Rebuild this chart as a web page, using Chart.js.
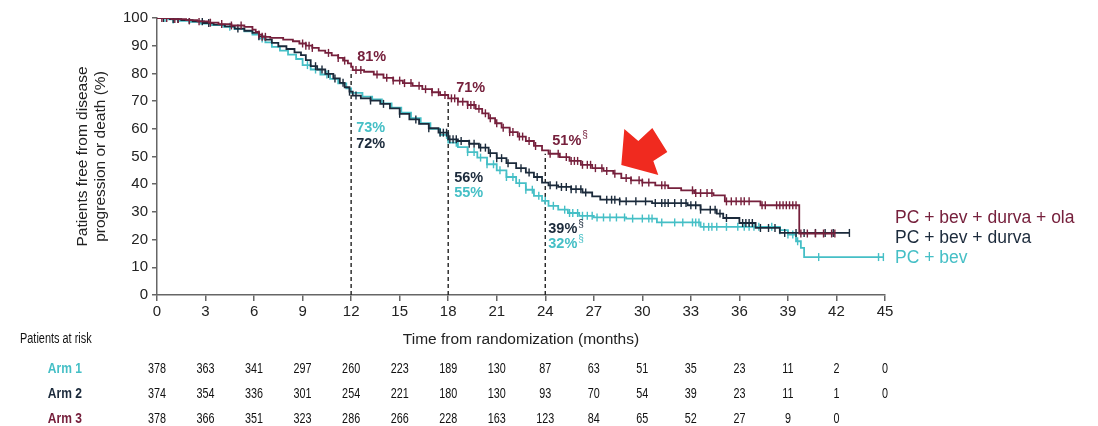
<!DOCTYPE html>
<html>
<head>
<meta charset="utf-8">
<script src="https://cdn.jsdelivr.net/npm/chart.js@4.4.1/dist/chart.umd.min.js"></script>
<style>
    body { margin: 0; background: #fff; }
    #wrap { width: 1098px; height: 426px; position: relative; }
</style>
</head>
<body>
<div id="wrap"><canvas id="km"></canvas></div>
<script>
// Kaplan-Meier step values (months, % free from progression)
const arm3Times = [0,0.9,1.8,2.5,3.2,3.8,4.6,5.4,5.9,6.1,6.3,6.5,7.0,7.8,8.4,8.8,9.2,9.6,10.0,10.4,10.8,11.2,11.5,11.8,12.0,12.1,12.8,13.4,14.0,14.6,15.2,15.8,16.4,17.0,17.5,18.0,18.6,19.2,19.7,20.1,20.5,20.9,21.3,21.8,22.3,22.8,23.3,23.8,24.2,24.9,25.5,26.2,26.9,27.6,28.2,28.7,29.3,30.0,30.8,31.6,32.4,33.2,34.4,35.1,37.3,39.7,41.9]
const arm3Surv = [100,99.6,99.2,98.8,98.3,97.8,97.3,96.8,95.8,95,94,93.2,92.8,92.2,91.6,90.8,90,89.2,88.2,87.4,86.5,85.6,84.6,83.6,82.4,81.2,80.6,79.6,78.4,77.4,76.5,75.5,74.3,73.2,72.2,71,69.8,68.6,67.2,65.6,63.8,62,60.4,58.8,57.2,55.6,53.8,52.2,51,49.8,48.4,47,45.8,44.8,43.8,42.2,41.4,40.6,39.6,38.6,37.8,36.8,36.0,33.8,32.4,22.2,22.2]

const arm2Times = [0,0.8,1.5,2.2,2.9,3.5,4.2,4.8,5.4,5.9,6.3,6.7,7.1,7.5,8.0,8.5,8.9,9.2,9.5,9.9,10.4,10.9,11.3,11.6,11.9,12.1,12.6,13.2,13.8,14.4,15.0,15.6,16.2,16.8,17.4,18.0,18.6,19.3,19.9,20.5,21.0,21.6,22.2,22.8,23.3,23.8,24.2,24.8,25.6,26.3,26.9,27.4,28.6,30.6,32.8,33.6,34.6,35.0,36.0,37.0,38.5,42.8]
const arm2Surv = [100,99.6,99.2,98.8,98.2,97.6,97,96.2,95.4,94.6,93.4,92.2,91,89.8,88.8,87.6,86.6,84.8,82.6,81.4,79.8,78.2,76.6,75,73.4,72,71,70.2,69,67.4,65.4,63.4,61.8,60.2,58.6,56.2,55.6,54.6,53.2,51.2,49.4,47.6,45.8,44.2,42.6,40.6,39.6,39,38.2,37,35.6,34.4,33.8,33.2,32.4,30.8,29.4,27.8,26,24.2,22.4,22.4]

const arm1Times = [0,0.7,1.3,2.0,2.7,3.4,4.1,4.8,5.4,5.9,6.3,6.7,7.1,7.6,8.1,8.6,9.0,9.5,10.1,10.7,11.2,11.7,12.0,12.7,13.3,13.9,14.5,15.1,15.7,16.3,16.9,17.5,18.0,18.6,19.2,19.8,20.4,21.0,21.6,22.2,22.8,23.3,23.8,24.2,24.8,25.4,26.1,27.0,29.0,30.9,33.6,38.5,39.0,39.5,39.8,40.0,44.9]
const arm1Surv = [100,99.5,99,98.6,98.0,97.4,96.8,96,95.2,94,92.6,91.2,89.6,88.2,86.8,85.2,83,81.4,79.6,78,76.4,74.6,73,71.6,70.6,69.2,67.6,65.8,63.8,62,60,57.8,55,53.4,51.6,49.6,47.2,45,42.6,40.4,38,35.8,34,32.2,30.8,29.6,28.6,28,27.6,26.2,24.6,23.4,21.8,19.4,17,13.7,13.7]

// censoring marks (months)
const arm3Censor = [0.3,0.6,1.1,1.3,2.0,2.6,3.3,4.0,4.6,5.2,6.3,6.5,6.7,9.0,9.2,9.4,9.6,10.6,11.2,11.6,12.3,12.6,13.6,14.2,14.6,15.0,15.3,15.7,16.2,16.6,17.0,17.4,17.8,18.2,18.4,18.6,18.9,19.2,19.4,19.6,19.9,20.3,20.6,21.0,21.4,21.8,22.0,22.4,22.6,23.0,23.4,24.3,24.8,25.3,25.6,25.8,26.0,26.3,26.6,26.8,27.1,27.5,27.8,28.3,29.0,29.3,29.8,30.0,30.4,31.2,31.4,33.1,33.3,33.6,34.0,34.3,35.2,35.5,35.8,36.1,36.3,36.6,37.4,37.6,38.3,38.5,38.7,38.9,39.1,39.3,39.5,39.8,40.2,40.7,41.2,41.7,41.9]
const arm2Censor = [0.4,1.0,1.3,2.0,2.8,3.2,5.0,6.3,9.8,10.2,10.6,11.0,11.5,11.9,12.3,13.2,14.0,15.0,16.0,16.8,17.5,17.7,17.9,18.1,18.3,18.5,18.8,19.3,19.6,20.0,20.3,20.6,21.0,21.3,21.7,22.5,23.0,23.5,24.3,24.7,25.0,25.3,25.6,25.9,26.2,26.5,27.8,28.1,28.3,28.6,29.0,29.6,30.2,30.8,31.2,31.4,31.6,32.0,32.4,32.7,33.0,33.3,33.6,34.2,34.5,34.8,35.2,36.2,36.4,36.6,36.8,37.3,37.8,38.2,38.8,39.5,40.0,40.7,41.3,41.8,42.8]
const arm1Censor = [0.5,1.0,4.5,6.5,9.3,9.8,10.5,17.9,18.5,19.2,19.6,20.0,20.4,20.8,21.2,21.6,22.0,22.4,22.8,23.2,23.6,24.0,24.5,25.2,25.5,25.7,26.0,26.3,26.6,26.9,27.2,27.6,28.0,28.4,28.9,29.4,30.0,30.4,30.6,31.2,32.0,32.5,33.1,33.3,33.5,33.8,34.1,34.3,34.6,35.2,35.9,36.3,36.6,36.9,37.2,38.0,38.5,39.0,39.3,39.6,40.9,44.6,44.9]

// landmark estimates
const milestoneMonths = [12, 18, 24]
const arm3Milestones = [81, 71, 51]
const arm2Milestones = [72, 56, 39]
const arm1Milestones = [73, 55, 32]

// patients at risk
const riskMonths = [0,3,6,9,12,15,18,21,24,27,30,33,36,39,42,45]
const arm1Risk = [378,363,341,297,260,223,189,130,87,63,51,35,23,11,2,0]
const arm2Risk = [374,354,336,301,254,221,180,130,93,70,54,39,23,11,1,0]
const arm3Risk = [378,366,351,323,286,266,228,163,123,84,65,52,27,9,0]

const armNames = ["PC + bev + durva + ola", "PC + bev + durva", "PC + bev"]

const MAROON = "#76203c"
const NAVY = "#1b2a3b"
const CYAN = "#45bfc6"
const FONT = "'Liberation Sans', Arial, sans-serif"

const stepValue = (times, surv, t) => {
    let v = surv[0]
    for (let i = 0; i < times.length; i++) {
        if (times[i] <= t) v = surv[i]
    }
    return v
}

const toPoints = (times, surv) => times.map((t, i) => ({ x: t, y: surv[i] }))
const toCensor = (censor, times, surv) => censor.map((t) => ({ x: t, y: stepValue(times, surv, t) }))

const curve = (times, surv, color) => ({
    type: "line",
    data: toPoints(times, surv),
    borderColor: color,
    borderWidth: 1.8,
    // horizontal first, then the drop (Chart.js "before")
    stepped: "before",
    pointRadius: 0,
    fill: false,
})

const ticks = (censor, times, surv, color) => ({
    type: "scatter",
    data: toCensor(censor, times, surv),
    pointStyle: "line",
    rotation: 90,
    pointRadius: 4,
    borderColor: color,
    borderWidth: 1.4,
    backgroundColor: color,
})

const dashed = milestoneMonths.map((m, i) => ({
    type: "line",
    data: [{ x: m, y: 0 }, { x: m, y: arm3Milestones[i] }],
    borderColor: "#222",
    borderWidth: 1.4,
    borderDash: [4, 3],
    pointRadius: 0,
}))

// label offsets in px from (month, value)
const labelOffsets = {
    arm3: [[6, -14], [8, -10], [7, -13]],
    arm2: [[5, 48], [6, 38], [3, 42]],
    arm1: [[5, 35], [6, 50], [3, 38]],
}

// narrow text for the risk table
const squeezedText = (ctx, text, px, py, sx) => {
    ctx.save()
    ctx.translate(px, py)
    ctx.scale(sx, 1)
    ctx.fillText(text, 0, 0)
    ctx.restore()
}

const extras = {
    id: "extras",
    afterDraw(chart) {
        const { ctx } = chart
        const x = chart.scales.x
        const y = chart.scales.y
        ctx.save()

        // landmark labels
        const groups = [
            ["arm3", arm3Milestones, MAROON],
            ["arm2", arm2Milestones, NAVY],
            ["arm1", arm1Milestones, CYAN],
        ]
        ctx.textBaseline = "middle"
        ctx.textAlign = "left"
        for (const [key, vals, color] of groups) {
            vals.forEach((v, i) => {
                const [dx, dy] = labelOffsets[key][i]
                const px = x.getPixelForValue(milestoneMonths[i]) + dx
                const py = y.getPixelForValue(v) + dy
                ctx.fillStyle = color
                ctx.font = "bold 14.5px " + FONT
                const txt = v + "%"
                ctx.fillText(txt, px, py)
                if (milestoneMonths[i] === 24) {
                    const w = ctx.measureText(txt).width
                    ctx.font = "10px " + FONT
                    ctx.fillText("§", px + w + 1, py - 5)
                }
            })
        }

        // legend
        ctx.font = "17.5px " + FONT
        ;[MAROON, NAVY, CYAN].forEach((c, i) => {
            ctx.fillStyle = c
            ctx.fillText(armNames[i], 895, 218 + i * 20)
        })

        // red arrow, anchored to a point on the chart
        const ax = x.getPixelForValue(28.7)
        const ay = y.getPixelForValue(46.9)
        const shape = [[0, 0], [3, -36], [17, -24], [31, -37], [46, -13], [32, -4], [37, 10]]
        ctx.fillStyle = "#f02a1f"
        ctx.beginPath()
        shape.forEach(([dx, dy], i) => {
            if (i === 0) ctx.moveTo(ax + dx, ay + dy)
            else ctx.lineTo(ax + dx, ay + dy)
        })
        ctx.closePath()
        ctx.fill()

        // patients at risk table
        ctx.fillStyle = "#111"
        ctx.font = "14px " + FONT
        squeezedText(ctx, "Patients at risk", 20, 339, 0.78)
        const rows = [
            ["Arm 1", arm1Risk, CYAN],
            ["Arm 2", arm2Risk, NAVY],
            ["Arm 3", arm3Risk, MAROON],
        ]
        rows.forEach(([name, vals, color], r) => {
            const ry = 369 + r * 25
            ctx.textAlign = "right"
            ctx.font = "bold 14px " + FONT
            ctx.fillStyle = color
            squeezedText(ctx, name, 82, ry, 0.86)
            ctx.textAlign = "center"
            ctx.font = "15px " + FONT
            ctx.fillStyle = "#111"
            vals.forEach((v, i) => {
                squeezedText(ctx, String(v), x.getPixelForValue(riskMonths[i]), ry, 0.72)
            })
        })
        ctx.restore()
    },
}

const config = {
    type: "line",
    data: {
        datasets: [
            curve(arm3Times, arm3Surv, MAROON),
            ticks(arm3Censor, arm3Times, arm3Surv, MAROON),
            curve(arm2Times, arm2Surv, NAVY),
            ticks(arm2Censor, arm2Times, arm2Surv, NAVY),
            curve(arm1Times, arm1Surv, CYAN),
            ticks(arm1Censor, arm1Times, arm1Surv, CYAN),
            ...dashed,
        ],
    },
    options: {
        responsive: true,
        maintainAspectRatio: false,
        animation: false,
        layout: { padding: { left: 70, right: 213, top: 18, bottom: 77 } },
        plugins: {
            legend: { display: false },
            tooltip: { enabled: false },
        },
        scales: {
            x: {
                type: "linear",
                min: 0,
                max: 45,
                afterFit: (s) => { s.height = 54 },
                ticks: { stepSize: 3, color: "#222", font: { size: 15, family: FONT }, padding: 2 },
                grid: { drawOnChartArea: false, drawTicks: true, tickLength: 6, color: "#666", lineWidth: 1.5 },
                border: { color: "#666", width: 1.5 },
                title: {
                    display: true,
                    text: "Time from randomization (months)",
                    color: "#222",
                    font: { size: 15.5, family: FONT },
                    padding: { top: 0, bottom: 0 },
                },
            },
            y: {
                min: 0,
                max: 100,
                afterFit: (s) => { s.width = 87 },
                ticks: { stepSize: 10, color: "#222", font: { size: 15, family: FONT }, padding: 4 },
                grid: { drawOnChartArea: false, drawTicks: true, tickLength: 5, color: "#666", lineWidth: 1.5 },
                border: { color: "#666", width: 1.5 },
                title: {
                    display: true,
                    text: ["Patients free from disease", "progression or death (%)"],
                    color: "#222",
                    font: { size: 15.5, family: FONT },
                    padding: { top: 3, bottom: 3 },
                },
            },
        },
    },
    plugins: [extras],
}

new Chart(document.getElementById("km"), config)
</script>
</body>
</html>
